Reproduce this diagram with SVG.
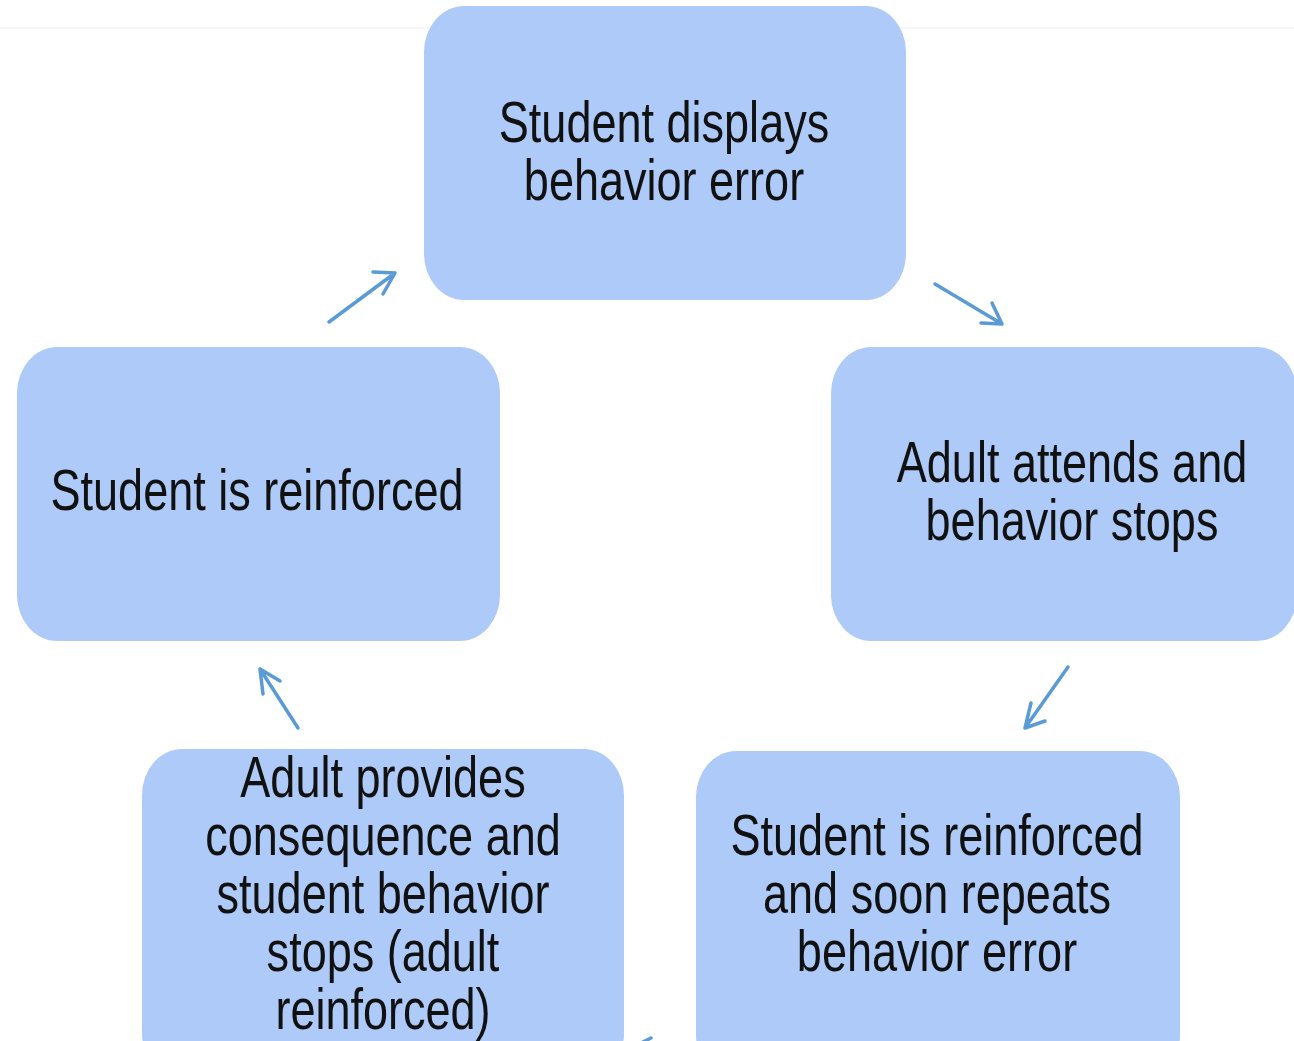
<svg xmlns="http://www.w3.org/2000/svg" width="1294" height="1041" viewBox="0 0 1294 1041">
  <defs>
    <style>
      .box { fill: #adcaf8; }
      .lbl { font-family: "Liberation Sans", Arial, sans-serif; font-size: 57px; fill: #111111; text-anchor: middle; }
      .conn { fill: none; stroke: #5b9bd5; stroke-width: 3.5; stroke-linecap: round; stroke-linejoin: round; }
    </style>
  </defs>
  <rect width="1294" height="1041" fill="#ffffff"/>
  <line x1="0" y1="28" x2="1294" y2="28" stroke="#f3f3f3" stroke-width="1.5"/>

  <g id="node-error">
    <rect class="box" x="424" y="6" width="482" height="294" rx="40" ry="46"/>
    <g transform="translate(664,0) scale(0.79,1)">
      <text class="lbl" x="0" y="142">Student displays</text>
      <text class="lbl" x="0" y="200">behavior error</text>
    </g>
  </g>

  <g id="node-attends">
    <rect class="box" x="831" y="347" width="466" height="294" rx="40" ry="46"/>
    <g transform="translate(1072,0) scale(0.79,1)">
      <text class="lbl" x="0" y="482">Adult attends and</text>
      <text class="lbl" x="0" y="540">behavior stops</text>
    </g>
  </g>

  <g id="node-repeats">
    <rect class="box" x="696" y="751" width="484" height="330" rx="40" ry="46"/>
    <g transform="translate(937,0) scale(0.79,1)">
      <text class="lbl" x="0" y="855">Student is reinforced</text>
      <text class="lbl" x="0" y="913">and soon repeats</text>
      <text class="lbl" x="0" y="971">behavior error</text>
    </g>
  </g>

  <g id="node-consequence">
    <rect class="box" x="142" y="749" width="482" height="330" rx="40" ry="46"/>
    <g transform="translate(383,0) scale(0.79,1)">
      <text class="lbl" x="0" y="797">Adult provides</text>
      <text class="lbl" x="0" y="855">consequence and</text>
      <text class="lbl" x="0" y="913">student behavior</text>
      <text class="lbl" x="0" y="971">stops (adult</text>
      <text class="lbl" x="0" y="1029">reinforced)</text>
    </g>
  </g>

  <g id="node-reinforced">
    <rect class="box" x="17" y="347" width="483" height="294" rx="40" ry="46"/>
    <g transform="translate(257,0) scale(0.79,1)">
      <text class="lbl" x="0" y="510">Student is reinforced</text>
    </g>
  </g>

  <g id="connectors">
    <path class="conn" d="M329 322 L395 273 M373 272 L395 273 L383 294"/>
    <path class="conn" d="M935 284 L1002 324 M981 323 L1002 324 L992 303"/>
    <path class="conn" d="M1068 667 L1025 728 M1031 703 L1025 728 L1045 721"/>
    <path class="conn" d="M298 728 L260 669 M263 694 L260 669 L280 681"/>
    <path class="conn" d="M641 1043 L651 1038"/>
  </g>
</svg>
